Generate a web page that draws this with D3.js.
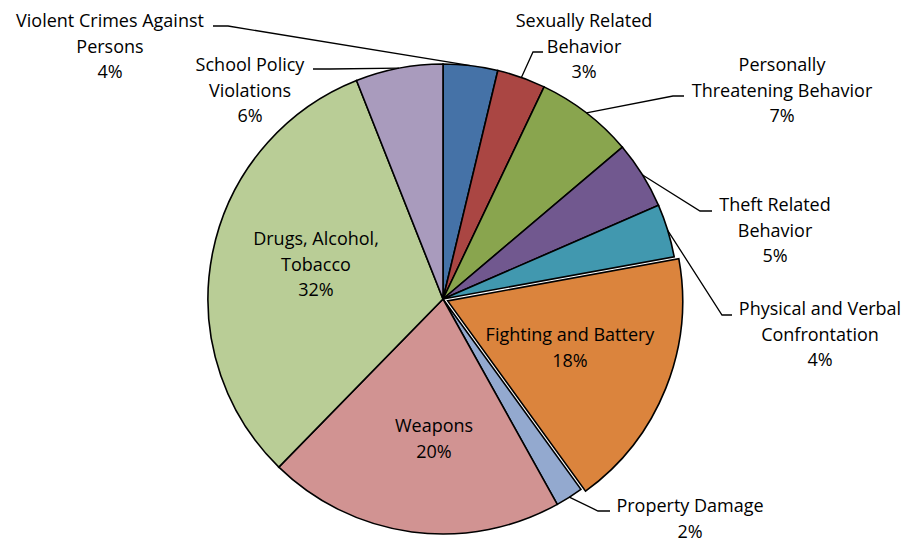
<!DOCTYPE html>
<html lang="en">
<head>
<meta charset="utf-8">
<style>
body {
  margin: 0;
  background: #fff;
}
text {
  font-family: "Open Sans", "Noto Sans", sans-serif;
  font-size: 18px;
  fill: #000;
}
.slice {
  stroke: #000;
  stroke-width: 1.6px;
}
.leader {
  fill: none;
  stroke: #000;
  stroke-width: 1.3px;
}
</style>
</head>
<body>
<script src="https://cdn.jsdelivr.net/npm/d3@7"></script>
<script>

// data (shares in %, clockwise from 12 o'clock)
var categories = ["Violent Crimes Against Persons", "Sexually Related Behavior",
  "Personally Threatening Behavior", "Theft Related Behavior",
  "Physical and Verbal Confrontation", "Fighting and Battery", "Property Damage",
  "Weapons", "Drugs, Alcohol, Tobacco", "School Policy Violations"];
var shares = [3.75, 3.33, 6.75, 4.65, 3.65, 17.9, 1.9, 20.4, 31.7, 6.0];
var labelLines = [
  ["Violent Crimes Against", "Persons"],
  ["Sexually Related", "Behavior"],
  ["Personally", "Threatening Behavior"],
  ["Theft Related", "Behavior"],
  ["Physical and Verbal", "Confrontation"],
  ["Fighting and Battery"],
  ["Property Damage"],
  ["Weapons"],
  ["Drugs, Alcohol,", "Tobacco"],
  ["School Policy", "Violations"]
];
var colors = ["#4572A7", "#AA4643", "#89A54E", "#71588F", "#4198AF",
  "#DB843D", "#93A9CF", "#D19392", "#B9CD96", "#A99BBD"];

var width = 906,
    height = 541;

var cx = 443, cy = 299, radius = 235;
var explodeIndex = 5, explodeBy = 5;
var lineH = 25.5;

// label layout: centre x, first baseline, elbow (null = inside label)
var layout = [
  {x: 110, y: 27, elbow: [228, 26], end: [213, 26]},
  {x: 584, y: 27, elbow: [533, 52], end: [543, 52]},
  {x: 782, y: 71, elbow: [673, 96], end: [684, 96]},
  {x: 775, y: 211, elbow: [700, 211], end: [712, 211]},
  {x: 820, y: 315, elbow: [722, 315], end: [732, 315]},
  {x: 570, y: 341, elbow: null},
  {x: 690, y: 512, elbow: [598, 511], end: [610, 511]},
  {x: 434, y: 432, elbow: null},
  {x: 316, y: 245, elbow: null},
  {x: 250, y: 71, elbow: [330, 69], end: [313, 69]}
];

var svg = d3.select("body").append("svg")
    .attr("width", width)
    .attr("height", height);

var pie = d3.pie()
    .sort(null)
    .value(function(d) { return d; });

var arc = d3.arc()
    .innerRadius(0)
    .outerRadius(radius);

var arcs = pie(shares);

var g = svg.append("g")
    .attr("transform", "translate(" + cx + "," + cy + ")");

function offset(d, i) {
  if (i !== explodeIndex) return [0, 0];
  var a = (d.startAngle + d.endAngle) / 2;
  return [Math.sin(a) * explodeBy, -Math.cos(a) * explodeBy];
}

g.selectAll("path.slice")
    .data(arcs)
    .enter().append("path")
    .attr("class", "slice")
    .attr("d", arc)
    .attr("fill", function(d, i) { return colors[i]; })
    .attr("transform", function(d, i) {
      var o = offset(d, i);
      return "translate(" + o[0] + "," + o[1] + ")";
    });

// leader lines from the slice edge at its middle angle
arcs.forEach(function(d, i) {
  var L = layout[i];
  if (!L.elbow) return;
  var a = (d.startAngle + d.endAngle) / 2;
  var o = offset(d, i);
  var sx = cx + o[0] + Math.sin(a) * radius,
      sy = cy + o[1] - Math.cos(a) * radius;
  svg.append("polyline")
      .attr("class", "leader")
      .attr("points", [[sx, sy], L.elbow, L.end].map(function(p) { return p.join(","); }).join(" "));
});

// labels
arcs.forEach(function(d, i) {
  var L = layout[i];
  var lines = labelLines[i].concat([d3.format(".0f")(d.data) + "%"]);
  var t = svg.append("text")
      .attr("text-anchor", "middle");
  lines.forEach(function(s, k) {
    t.append("tspan")
        .attr("x", L.x)
        .attr("y", L.y + k * lineH)
        .text(s);
  });
});

</script>
</body>
</html>
